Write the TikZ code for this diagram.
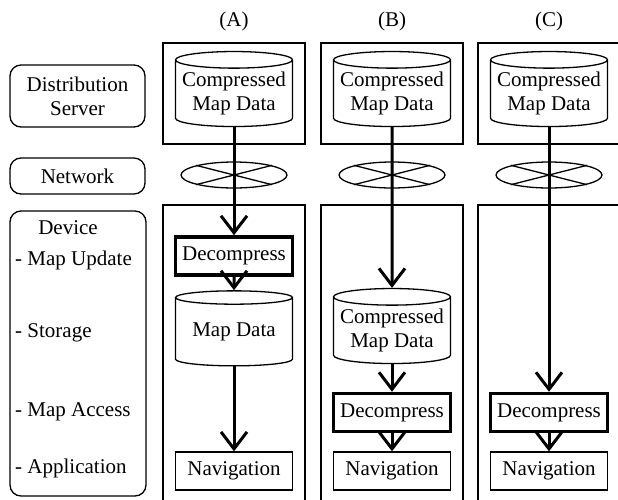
\documentclass[tikz,border=0pt]{standalone}
\usepackage{fontspec}
\setmainfont{Liberation Serif}
\usetikzlibrary{shapes.geometric,arrows.meta}
\newcommand{\figfont}{\fontsize{21}{24}\selectfont}
\tikzset{
  panel/.style={draw,line width=1.3pt},
  label box/.style={draw,line width=1.3pt,rounded corners=11pt},
  db/.style={cylinder,shape border rotate=90,draw,line width=1.3pt,
    minimum width=117pt,minimum height=75pt,aspect=0.16,inner sep=0pt,align=center},
  decomp/.style={draw,line width=3.5pt,minimum width=117pt,minimum height=38pt,inner sep=0pt},
  app/.style={draw,line width=1.3pt,minimum width=117pt,minimum height=38pt,inner sep=0pt},
  net/.style={ellipse,draw,line width=1.3pt,minimum width=106pt,minimum height=26pt,inner sep=0pt},
  flow/.style={line width=3pt,-{Straight Barb[length=17pt,width=26pt,line width=3pt]}},
  rowtext/.style={anchor=west,inner sep=0pt}
}

\begin{document}
\begin{tikzpicture}[x=1pt,y=-1pt,every node/.style={font=\figfont}]
  \clip (0,0) rectangle (618,499);

  % row labels
  \node[label box,minimum width=135pt,minimum height=62pt,align=center] (lserver) at (77.5,96) {Distribution\\Server};
  \node[label box,minimum width=135pt,minimum height=36pt] (lnet) at (77.5,176) {Network};
  \draw[label box] (10,211) rectangle (146,496);
  \node (ldev) at (68,228) {Device};
  \node[rowtext] (lupd) at (15,260) {- Map Update};
  \node[rowtext] (lsto) at (15,333) {- Storage};
  \node[rowtext] (lacc) at (15,412) {- Map Access};
  \node[rowtext] (lapp) at (15,468) {- Application};

  % column titles
  \node (tA) at (234,21) {(A)};
  \node (tB) at (392,21) {(B)};
  \node (tC) at (549,21) {(C)};

  % panels
  \draw[panel] (163,43) rectangle (305,144);
  \draw[panel] (321,43) rectangle (463,144);
  \draw[panel] (478,43) rectangle (640,144);
  \draw[panel] (163,205) rectangle (305,520);
  \draw[panel] (321,205) rectangle (463,520);
  \draw[panel] (478,205) rectangle (640,520);

  % server
  \node[db] (srvA) at (234,93.5) {Compressed\\Map Data};
  \node[db] (srvB) at (392,93.5) {Compressed\\Map Data};
  \node[db] (srvC) at (549,93.5) {Compressed\\Map Data};

  % network
  \foreach \n/\x in {A/234,B/392,C/549}{
    \node[net] (net\n) at (\x,175) {};
    \draw[line width=1.3pt] (net\n.north west)--(net\n.south east);
    \draw[line width=1.3pt] (net\n.north east)--(net\n.south west);
  }

  % device (A)
  \node[decomp] (decA) at (234,256) {Decompress};
  \node[db] (mapA) at (234,332) {Map Data};
  \node[app] (navA) at (234,471) {Navigation};

  % device (B)
  \node[db] (cmpB) at (392,330.5) {Compressed\\Map Data};
  \node[decomp] (decB) at (392,412.5) {Decompress};
  \node[app] (navB) at (392,471) {Navigation};

  % device (C)
  \node[decomp] (decC) at (549,412.5) {Decompress};
  \node[app] (navC) at (549,471) {Navigation};

  % flows
  \draw[flow] (srvA.south) -- (decA.north);
  \draw[flow] (decA.south) -- (mapA.north);
  \draw[flow] (mapA.south) -- (navA.north);
  \draw[flow] (srvB.south) -- (cmpB.north);
  \draw[flow] (cmpB.south) -- (decB.north);
  \draw[flow] (decB.south) -- (navB.north);
  \draw[flow] (srvC.south) -- (decC.north);
  \draw[flow] (decC.south) -- (navC.north);
\end{tikzpicture}
\end{document}
